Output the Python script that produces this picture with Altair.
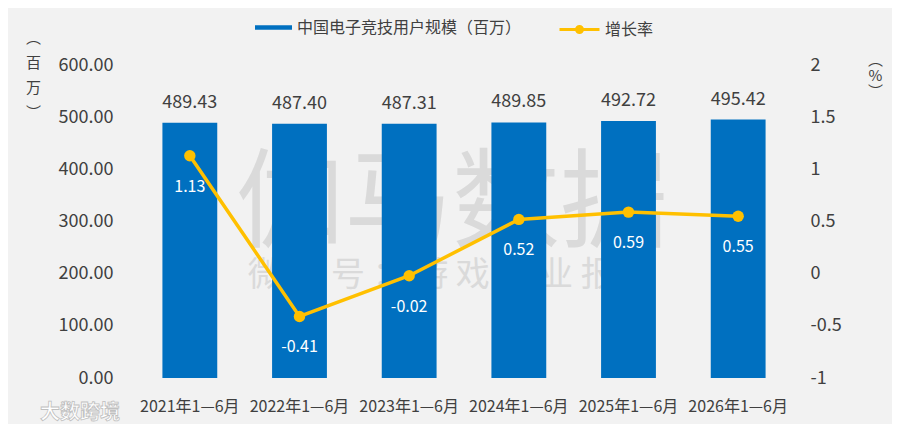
import altair as alt
import pandas as pd

periods = ["2021年1—6月", "2022年1—6月", "2023年1—6月", "2024年1—6月", "2025年1—6月", "2026年1—6月"]
users = [489.43, 487.40, 487.31, 489.85, 492.72, 495.42]
growth = [1.13, -0.41, -0.02, 0.52, 0.59, 0.55]
bar_name = "中国电子竞技用户规模（百万）"
line_name = "增长率"
left_ticks = [0, 100, 200, 300, 400, 500, 600]
right_ticks = [-1, -0.5, 0, 0.5, 1, 1.5, 2]

FONT = "Noto Sans CJK SC"
BLUE = "#0070C0"
GOLD = "#FFC000"
TXT = "#404040"

df = pd.DataFrame({
    "period": periods,
    "users": users,
    "growth": growth,
    "users_lbl": [f"{v:.2f}" for v in users],
    "growth_lbl": [f"{v:.2f}" for v in growth],
    "bar_s": [bar_name] * len(periods),
    "line_s": [line_name] * len(periods),
})

X = alt.X("period:N", sort=periods, title="",
          scale=alt.Scale(paddingInner=0.5, paddingOuter=0.25),
          axis=alt.Axis(labelAngle=0, labelFontSize=16, labelPadding=20, labelBaseline="top"))

Y_left = alt.Y("users:Q", scale=alt.Scale(domain=[0, 600], nice=False),
               axis=alt.Axis(values=left_ticks, format=".2f", orient="left", labelPadding=22,
                             title=["︵", "百", "万", "︶"], titleAngle=0, titleX=-102, titleY=-35,
                             titleAlign="center", titleBaseline="top", titleFontSize=15,
                             titleLineHeight=25, titleFontWeight="normal", titleColor=TXT,
                             titleFont=FONT))

Y_right = alt.Y("growth:Q", scale=alt.Scale(domain=[-1, 2], nice=False),
                axis=alt.Axis(values=right_ticks, orient="right", labelPadding=17,
                              labelExpr="'' + datum.value",
                              title=["︵", "%", "︶"], titleAngle=0, titleX=82, titleY=-13,
                              titleAlign="center", titleBaseline="top", titleFontSize=15,
                              titleLineHeight=16, titleFontWeight="normal", titleColor=TXT,
                              titleFont=FONT))

wm1 = alt.Chart(pd.DataFrame({"t": ["伽马数据"]})).mark_text(
    font=FONT, fontSize=108, color="#dadada", align="center", baseline="middle"
).encode(x=alt.value(317), y=alt.value(142), text="t:N")

wm2 = alt.Chart(pd.DataFrame({"t": ["微 信 号 ： 游 戏 产 业 报 告"]})).mark_text(
    font=FONT, fontSize=34, color="#dadada", align="center", baseline="middle"
).encode(x=alt.value(317), y=alt.value(211), text="t:N")

logo = alt.Chart(pd.DataFrame({"t": ["大数跨境"]})).mark_text(
    font=FONT, fontSize=20, fontWeight="bold", color="#ffffff", stroke="#c0c0c0",
    strokeWidth=0.8, align="center", baseline="middle"
).encode(x=alt.value(-55), y=alt.value(348), text="t:N")

bars = alt.Chart(df).mark_bar().encode(
    x=X, y=Y_left,
    fill=alt.Fill("bar_s:N", title=None,
                  scale=alt.Scale(domain=[bar_name], range=[BLUE]),
                  legend=alt.Legend(orient="none", legendX=120, legendY=-56,
                                    symbolType="M-1,-0.12H1V0.12H-1Z", symbolSize=1369,
                                    symbolStrokeWidth=0, labelFont=FONT, labelFontSize=16,
                                    labelColor=TXT, labelOffset=5, padding=0, labelLimit=500)),
)

bar_text = alt.Chart(df).mark_text(
    font=FONT, fontSize=18, color=TXT, baseline="alphabetic", dy=-15
).encode(x=X, y=Y_left, text="users_lbl:N")

line = alt.Chart(df).mark_line(strokeWidth=3.5).encode(
    x=X, y=Y_right,
    stroke=alt.Stroke("line_s:N", title=None,
                      scale=alt.Scale(domain=[line_name], range=[GOLD]),
                      legend=alt.Legend(orient="none", legendX=423, legendY=-57,
                                        symbolType="M-1,0H1M-0.15,0A0.15,0.15 0 1,0 0.15,0A0.15,0.15 0 1,0 -0.15,0",
                                        symbolSize=1600, symbolStrokeWidth=3,
                                        symbolFillColor=GOLD, labelFont=FONT, labelFontSize=16,
                                        labelColor=TXT, labelOffset=4, padding=0, labelLimit=500)),
)

pts = alt.Chart(df).mark_circle(size=130, color=GOLD, opacity=1).encode(x=X, y=Y_right)

line_text = alt.Chart(df).mark_text(
    font=FONT, fontSize=16, color="#ffffff", baseline="middle", dy=31
).encode(x=X, y=Y_right, text="growth_lbl:N")

left = alt.layer(wm1, wm2, logo, bars, bar_text)
right = alt.layer(line, pts, line_text)

chart = alt.layer(left, right).resolve_scale(
    y="independent", fill="independent", stroke="independent"
).properties(
    width=658, height=313,
    autosize=alt.AutoSizeParams(type="none"),
    padding={"left": 127, "top": 57, "right": 99, "bottom": 46},
    background="#F2F2F2",
).configure_view(strokeWidth=0).configure_axis(
    grid=False, domain=False, ticks=False,
    labelFont=FONT, labelFontSize=18, labelColor=TXT,
)

chart.save("out.html", embed_options={"renderer": "svg", "actions": False})
